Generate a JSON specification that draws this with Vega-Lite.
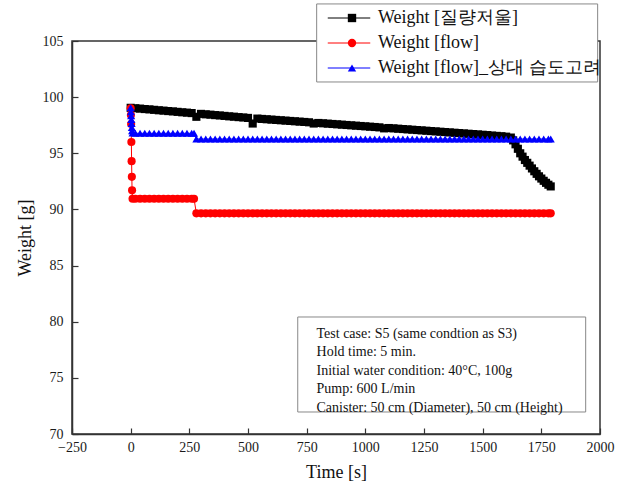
{
  "$schema": "https://vega.github.io/schema/vega-lite/v6.json",
  "width": 528,
  "height": 393,
  "autosize": {"type": "none"},
  "padding": {"left": 72, "top": 41, "right": 24, "bottom": 57},
  "background": "white",
  "config": {
    "view": {"stroke": "#333", "strokeWidth": 1.5},
    "font": "Liberation Serif",
    "axis": {
      "labelFont": "Liberation Serif",
      "titleFont": "Liberation Serif",
      "labelFontSize": 14,
      "titleFontSize": 18,
      "titleFontWeight": "normal",
      "labelColor": "#1a1a1a",
      "titleColor": "#111",
      "domainColor": "#333",
      "domainWidth": 1.5,
      "tickColor": "#333",
      "tickWidth": 1.2,
      "labelFlush": false,
      "labelOverlap": false
    },
    "legend": {
      "orient": "none",
      "legendX": 244,
      "legendY": -37,
      "padding": 5,
      "labelFont": "Liberation Serif",
      "labelFontSize": 18,
      "labelColor": "#111",
      "labelLimit": 400,
      "rowPadding": 7
    }
  },
  "datasets": {
    "one": [{}]
  },
  "data": {
    "values": [
      {"series": "Weight [질량저울]", "t": 0, "w": 99.05},
      {"series": "Weight [질량저울]", "t": 20, "w": 99.01},
      {"series": "Weight [질량저울]", "t": 40, "w": 98.98},
      {"series": "Weight [질량저울]", "t": 60, "w": 98.94},
      {"series": "Weight [질량저울]", "t": 80, "w": 98.91},
      {"series": "Weight [질량저울]", "t": 100, "w": 98.87},
      {"series": "Weight [질량저울]", "t": 120, "w": 98.83},
      {"series": "Weight [질량저울]", "t": 140, "w": 98.80},
      {"series": "Weight [질량저울]", "t": 160, "w": 98.76},
      {"series": "Weight [질량저울]", "t": 180, "w": 98.73},
      {"series": "Weight [질량저울]", "t": 200, "w": 98.69},
      {"series": "Weight [질량저울]", "t": 220, "w": 98.65},
      {"series": "Weight [질량저울]", "t": 240, "w": 98.62},
      {"series": "Weight [질량저울]", "t": 260, "w": 98.58},
      {"series": "Weight [질량저울]", "t": 280, "w": 98.25},
      {"series": "Weight [질량저울]", "t": 300, "w": 98.51},
      {"series": "Weight [질량저울]", "t": 320, "w": 98.47},
      {"series": "Weight [질량저울]", "t": 340, "w": 98.44},
      {"series": "Weight [질량저울]", "t": 360, "w": 98.40},
      {"series": "Weight [질량저울]", "t": 380, "w": 98.37},
      {"series": "Weight [질량저울]", "t": 400, "w": 98.33},
      {"series": "Weight [질량저울]", "t": 420, "w": 98.29},
      {"series": "Weight [질량저울]", "t": 440, "w": 98.26},
      {"series": "Weight [질량저울]", "t": 460, "w": 98.22},
      {"series": "Weight [질량저울]", "t": 480, "w": 98.19},
      {"series": "Weight [질량저울]", "t": 500, "w": 98.15},
      {"series": "Weight [질량저울]", "t": 520, "w": 97.65},
      {"series": "Weight [질량저울]", "t": 540, "w": 98.09},
      {"series": "Weight [질량저울]", "t": 560, "w": 98.06},
      {"series": "Weight [질량저울]", "t": 580, "w": 98.03},
      {"series": "Weight [질량저울]", "t": 600, "w": 98.00},
      {"series": "Weight [질량저울]", "t": 620, "w": 97.97},
      {"series": "Weight [질량저울]", "t": 640, "w": 97.94},
      {"series": "Weight [질량저울]", "t": 660, "w": 97.91},
      {"series": "Weight [질량저울]", "t": 680, "w": 97.88},
      {"series": "Weight [질량저울]", "t": 700, "w": 97.85},
      {"series": "Weight [질량저울]", "t": 720, "w": 97.82},
      {"series": "Weight [질량저울]", "t": 740, "w": 97.79},
      {"series": "Weight [질량저울]", "t": 760, "w": 97.76},
      {"series": "Weight [질량저울]", "t": 780, "w": 97.65},
      {"series": "Weight [질량저울]", "t": 800, "w": 97.70},
      {"series": "Weight [질량저울]", "t": 820, "w": 97.67},
      {"series": "Weight [질량저울]", "t": 840, "w": 97.64},
      {"series": "Weight [질량저울]", "t": 860, "w": 97.61},
      {"series": "Weight [질량저울]", "t": 880, "w": 97.58},
      {"series": "Weight [질량저울]", "t": 900, "w": 97.55},
      {"series": "Weight [질량저울]", "t": 920, "w": 97.52},
      {"series": "Weight [질량저울]", "t": 940, "w": 97.49},
      {"series": "Weight [질량저울]", "t": 960, "w": 97.46},
      {"series": "Weight [질량저울]", "t": 980, "w": 97.43},
      {"series": "Weight [질량저울]", "t": 1000, "w": 97.40},
      {"series": "Weight [질량저울]", "t": 1020, "w": 97.37},
      {"series": "Weight [질량저울]", "t": 1040, "w": 97.34},
      {"series": "Weight [질량저울]", "t": 1060, "w": 97.31},
      {"series": "Weight [질량저울]", "t": 1080, "w": 97.22},
      {"series": "Weight [질량저울]", "t": 1100, "w": 97.25},
      {"series": "Weight [질량저울]", "t": 1120, "w": 97.22},
      {"series": "Weight [질량저울]", "t": 1140, "w": 97.19},
      {"series": "Weight [질량저울]", "t": 1160, "w": 97.16},
      {"series": "Weight [질량저울]", "t": 1180, "w": 97.13},
      {"series": "Weight [질량저울]", "t": 1200, "w": 97.10},
      {"series": "Weight [질량저울]", "t": 1220, "w": 97.07},
      {"series": "Weight [질량저울]", "t": 1240, "w": 97.04},
      {"series": "Weight [질량저울]", "t": 1260, "w": 97.01},
      {"series": "Weight [질량저울]", "t": 1280, "w": 96.98},
      {"series": "Weight [질량저울]", "t": 1300, "w": 96.95},
      {"series": "Weight [질량저울]", "t": 1320, "w": 96.92},
      {"series": "Weight [질량저울]", "t": 1340, "w": 96.89},
      {"series": "Weight [질량저울]", "t": 1360, "w": 96.86},
      {"series": "Weight [질량저울]", "t": 1380, "w": 96.83},
      {"series": "Weight [질량저울]", "t": 1400, "w": 96.80},
      {"series": "Weight [질량저울]", "t": 1420, "w": 96.77},
      {"series": "Weight [질량저울]", "t": 1440, "w": 96.74},
      {"series": "Weight [질량저울]", "t": 1460, "w": 96.71},
      {"series": "Weight [질량저울]", "t": 1480, "w": 96.68},
      {"series": "Weight [질량저울]", "t": 1500, "w": 96.65},
      {"series": "Weight [질량저울]", "t": 1520, "w": 96.62},
      {"series": "Weight [질량저울]", "t": 1540, "w": 96.58},
      {"series": "Weight [질량저울]", "t": 1560, "w": 96.55},
      {"series": "Weight [질량저울]", "t": 1580, "w": 96.52},
      {"series": "Weight [질량저울]", "t": 1600, "w": 96.48},
      {"series": "Weight [질량저울]", "t": 1620, "w": 96.40},
      {"series": "Weight [질량저울]", "t": 1630, "w": 96.15},
      {"series": "Weight [질량저울]", "t": 1640, "w": 95.80},
      {"series": "Weight [질량저울]", "t": 1650, "w": 95.40},
      {"series": "Weight [질량저울]", "t": 1660, "w": 95.00},
      {"series": "Weight [질량저울]", "t": 1670, "w": 94.70},
      {"series": "Weight [질량저울]", "t": 1680, "w": 94.40},
      {"series": "Weight [질량저울]", "t": 1690, "w": 94.15},
      {"series": "Weight [질량저울]", "t": 1700, "w": 93.90},
      {"series": "Weight [질량저울]", "t": 1710, "w": 93.65},
      {"series": "Weight [질량저울]", "t": 1720, "w": 93.40},
      {"series": "Weight [질량저울]", "t": 1730, "w": 93.17},
      {"series": "Weight [질량저울]", "t": 1740, "w": 92.95},
      {"series": "Weight [질량저울]", "t": 1750, "w": 92.75},
      {"series": "Weight [질량저울]", "t": 1760, "w": 92.55},
      {"series": "Weight [질량저울]", "t": 1770, "w": 92.37},
      {"series": "Weight [질량저울]", "t": 1780, "w": 92.20},
      {"series": "Weight [질량저울]", "t": 1790, "w": 92.05},

      {"series": "Weight [flow]", "t": 0, "w": 99.0},
      {"series": "Weight [flow]", "t": 1, "w": 98.4},
      {"series": "Weight [flow]", "t": 2, "w": 97.6},
      {"series": "Weight [flow]", "t": 3, "w": 96.0},
      {"series": "Weight [flow]", "t": 4, "w": 94.3},
      {"series": "Weight [flow]", "t": 5, "w": 92.9},
      {"series": "Weight [flow]", "t": 6, "w": 91.7},
      {"series": "Weight [flow]", "t": 8, "w": 90.95},
      {"series": "Weight [flow]", "t": 20, "w": 90.95},
      {"series": "Weight [flow]", "t": 40, "w": 90.95},
      {"series": "Weight [flow]", "t": 60, "w": 90.95},
      {"series": "Weight [flow]", "t": 80, "w": 90.95},
      {"series": "Weight [flow]", "t": 100, "w": 90.95},
      {"series": "Weight [flow]", "t": 120, "w": 90.95},
      {"series": "Weight [flow]", "t": 140, "w": 90.95},
      {"series": "Weight [flow]", "t": 160, "w": 90.95},
      {"series": "Weight [flow]", "t": 180, "w": 90.95},
      {"series": "Weight [flow]", "t": 200, "w": 90.95},
      {"series": "Weight [flow]", "t": 220, "w": 90.95},
      {"series": "Weight [flow]", "t": 240, "w": 90.95},
      {"series": "Weight [flow]", "t": 260, "w": 90.95},
      {"series": "Weight [flow]", "t": 270, "w": 90.95},
      {"series": "Weight [flow]", "t": 280, "w": 89.65},
      {"series": "Weight [flow]", "t": 300, "w": 89.65},
      {"series": "Weight [flow]", "t": 320, "w": 89.65},
      {"series": "Weight [flow]", "t": 340, "w": 89.65},
      {"series": "Weight [flow]", "t": 360, "w": 89.65},
      {"series": "Weight [flow]", "t": 380, "w": 89.65},
      {"series": "Weight [flow]", "t": 400, "w": 89.65},
      {"series": "Weight [flow]", "t": 420, "w": 89.65},
      {"series": "Weight [flow]", "t": 440, "w": 89.65},
      {"series": "Weight [flow]", "t": 460, "w": 89.65},
      {"series": "Weight [flow]", "t": 480, "w": 89.65},
      {"series": "Weight [flow]", "t": 500, "w": 89.65},
      {"series": "Weight [flow]", "t": 520, "w": 89.65},
      {"series": "Weight [flow]", "t": 540, "w": 89.65},
      {"series": "Weight [flow]", "t": 560, "w": 89.65},
      {"series": "Weight [flow]", "t": 580, "w": 89.65},
      {"series": "Weight [flow]", "t": 600, "w": 89.65},
      {"series": "Weight [flow]", "t": 620, "w": 89.65},
      {"series": "Weight [flow]", "t": 640, "w": 89.65},
      {"series": "Weight [flow]", "t": 660, "w": 89.65},
      {"series": "Weight [flow]", "t": 680, "w": 89.65},
      {"series": "Weight [flow]", "t": 700, "w": 89.65},
      {"series": "Weight [flow]", "t": 720, "w": 89.65},
      {"series": "Weight [flow]", "t": 740, "w": 89.65},
      {"series": "Weight [flow]", "t": 760, "w": 89.65},
      {"series": "Weight [flow]", "t": 780, "w": 89.65},
      {"series": "Weight [flow]", "t": 800, "w": 89.65},
      {"series": "Weight [flow]", "t": 820, "w": 89.65},
      {"series": "Weight [flow]", "t": 840, "w": 89.65},
      {"series": "Weight [flow]", "t": 860, "w": 89.65},
      {"series": "Weight [flow]", "t": 880, "w": 89.65},
      {"series": "Weight [flow]", "t": 900, "w": 89.65},
      {"series": "Weight [flow]", "t": 920, "w": 89.65},
      {"series": "Weight [flow]", "t": 940, "w": 89.65},
      {"series": "Weight [flow]", "t": 960, "w": 89.65},
      {"series": "Weight [flow]", "t": 980, "w": 89.65},
      {"series": "Weight [flow]", "t": 1000, "w": 89.65},
      {"series": "Weight [flow]", "t": 1020, "w": 89.65},
      {"series": "Weight [flow]", "t": 1040, "w": 89.65},
      {"series": "Weight [flow]", "t": 1060, "w": 89.65},
      {"series": "Weight [flow]", "t": 1080, "w": 89.65},
      {"series": "Weight [flow]", "t": 1100, "w": 89.65},
      {"series": "Weight [flow]", "t": 1120, "w": 89.65},
      {"series": "Weight [flow]", "t": 1140, "w": 89.65},
      {"series": "Weight [flow]", "t": 1160, "w": 89.65},
      {"series": "Weight [flow]", "t": 1180, "w": 89.65},
      {"series": "Weight [flow]", "t": 1200, "w": 89.65},
      {"series": "Weight [flow]", "t": 1220, "w": 89.65},
      {"series": "Weight [flow]", "t": 1240, "w": 89.65},
      {"series": "Weight [flow]", "t": 1260, "w": 89.65},
      {"series": "Weight [flow]", "t": 1280, "w": 89.65},
      {"series": "Weight [flow]", "t": 1300, "w": 89.65},
      {"series": "Weight [flow]", "t": 1320, "w": 89.65},
      {"series": "Weight [flow]", "t": 1340, "w": 89.65},
      {"series": "Weight [flow]", "t": 1360, "w": 89.65},
      {"series": "Weight [flow]", "t": 1380, "w": 89.65},
      {"series": "Weight [flow]", "t": 1400, "w": 89.65},
      {"series": "Weight [flow]", "t": 1420, "w": 89.65},
      {"series": "Weight [flow]", "t": 1440, "w": 89.65},
      {"series": "Weight [flow]", "t": 1460, "w": 89.65},
      {"series": "Weight [flow]", "t": 1480, "w": 89.65},
      {"series": "Weight [flow]", "t": 1500, "w": 89.65},
      {"series": "Weight [flow]", "t": 1520, "w": 89.65},
      {"series": "Weight [flow]", "t": 1540, "w": 89.65},
      {"series": "Weight [flow]", "t": 1560, "w": 89.65},
      {"series": "Weight [flow]", "t": 1580, "w": 89.65},
      {"series": "Weight [flow]", "t": 1600, "w": 89.65},
      {"series": "Weight [flow]", "t": 1620, "w": 89.65},
      {"series": "Weight [flow]", "t": 1640, "w": 89.65},
      {"series": "Weight [flow]", "t": 1660, "w": 89.65},
      {"series": "Weight [flow]", "t": 1680, "w": 89.65},
      {"series": "Weight [flow]", "t": 1700, "w": 89.65},
      {"series": "Weight [flow]", "t": 1720, "w": 89.65},
      {"series": "Weight [flow]", "t": 1740, "w": 89.65},
      {"series": "Weight [flow]", "t": 1760, "w": 89.65},
      {"series": "Weight [flow]", "t": 1780, "w": 89.65},
      {"series": "Weight [flow]", "t": 1790, "w": 89.65},

      {"series": "Weight [flow]_상대 습도고려", "t": 0, "w": 99.05},
      {"series": "Weight [flow]_상대 습도고려", "t": 1, "w": 98.7},
      {"series": "Weight [flow]_상대 습도고려", "t": 2, "w": 98.35},
      {"series": "Weight [flow]_상대 습도고려", "t": 3, "w": 98.0},
      {"series": "Weight [flow]_상대 습도고려", "t": 4, "w": 97.65},
      {"series": "Weight [flow]_상대 습도고려", "t": 5, "w": 97.3},
      {"series": "Weight [flow]_상대 습도고려", "t": 6, "w": 97.0},
      {"series": "Weight [flow]_상대 습도고려", "t": 8, "w": 96.8},
      {"series": "Weight [flow]_상대 습도고려", "t": 20, "w": 96.78},
      {"series": "Weight [flow]_상대 습도고려", "t": 40, "w": 96.78},
      {"series": "Weight [flow]_상대 습도고려", "t": 60, "w": 96.78},
      {"series": "Weight [flow]_상대 습도고려", "t": 80, "w": 96.78},
      {"series": "Weight [flow]_상대 습도고려", "t": 100, "w": 96.78},
      {"series": "Weight [flow]_상대 습도고려", "t": 120, "w": 96.78},
      {"series": "Weight [flow]_상대 습도고려", "t": 140, "w": 96.78},
      {"series": "Weight [flow]_상대 습도고려", "t": 160, "w": 96.78},
      {"series": "Weight [flow]_상대 습도고려", "t": 180, "w": 96.78},
      {"series": "Weight [flow]_상대 습도고려", "t": 200, "w": 96.78},
      {"series": "Weight [flow]_상대 습도고려", "t": 220, "w": 96.78},
      {"series": "Weight [flow]_상대 습도고려", "t": 240, "w": 96.78},
      {"series": "Weight [flow]_상대 습도고려", "t": 260, "w": 96.78},
      {"series": "Weight [flow]_상대 습도고려", "t": 270, "w": 96.78},
      {"series": "Weight [flow]_상대 습도고려", "t": 280, "w": 96.27},
      {"series": "Weight [flow]_상대 습도고려", "t": 300, "w": 96.27},
      {"series": "Weight [flow]_상대 습도고려", "t": 320, "w": 96.27},
      {"series": "Weight [flow]_상대 습도고려", "t": 340, "w": 96.27},
      {"series": "Weight [flow]_상대 습도고려", "t": 360, "w": 96.27},
      {"series": "Weight [flow]_상대 습도고려", "t": 380, "w": 96.27},
      {"series": "Weight [flow]_상대 습도고려", "t": 400, "w": 96.27},
      {"series": "Weight [flow]_상대 습도고려", "t": 420, "w": 96.27},
      {"series": "Weight [flow]_상대 습도고려", "t": 440, "w": 96.27},
      {"series": "Weight [flow]_상대 습도고려", "t": 460, "w": 96.27},
      {"series": "Weight [flow]_상대 습도고려", "t": 480, "w": 96.27},
      {"series": "Weight [flow]_상대 습도고려", "t": 500, "w": 96.27},
      {"series": "Weight [flow]_상대 습도고려", "t": 520, "w": 96.27},
      {"series": "Weight [flow]_상대 습도고려", "t": 540, "w": 96.27},
      {"series": "Weight [flow]_상대 습도고려", "t": 560, "w": 96.27},
      {"series": "Weight [flow]_상대 습도고려", "t": 580, "w": 96.27},
      {"series": "Weight [flow]_상대 습도고려", "t": 600, "w": 96.27},
      {"series": "Weight [flow]_상대 습도고려", "t": 620, "w": 96.27},
      {"series": "Weight [flow]_상대 습도고려", "t": 640, "w": 96.27},
      {"series": "Weight [flow]_상대 습도고려", "t": 660, "w": 96.27},
      {"series": "Weight [flow]_상대 습도고려", "t": 680, "w": 96.27},
      {"series": "Weight [flow]_상대 습도고려", "t": 700, "w": 96.27},
      {"series": "Weight [flow]_상대 습도고려", "t": 720, "w": 96.27},
      {"series": "Weight [flow]_상대 습도고려", "t": 740, "w": 96.27},
      {"series": "Weight [flow]_상대 습도고려", "t": 760, "w": 96.27},
      {"series": "Weight [flow]_상대 습도고려", "t": 780, "w": 96.27},
      {"series": "Weight [flow]_상대 습도고려", "t": 800, "w": 96.27},
      {"series": "Weight [flow]_상대 습도고려", "t": 820, "w": 96.27},
      {"series": "Weight [flow]_상대 습도고려", "t": 840, "w": 96.27},
      {"series": "Weight [flow]_상대 습도고려", "t": 860, "w": 96.27},
      {"series": "Weight [flow]_상대 습도고려", "t": 880, "w": 96.27},
      {"series": "Weight [flow]_상대 습도고려", "t": 900, "w": 96.27},
      {"series": "Weight [flow]_상대 습도고려", "t": 920, "w": 96.27},
      {"series": "Weight [flow]_상대 습도고려", "t": 940, "w": 96.27},
      {"series": "Weight [flow]_상대 습도고려", "t": 960, "w": 96.27},
      {"series": "Weight [flow]_상대 습도고려", "t": 980, "w": 96.27},
      {"series": "Weight [flow]_상대 습도고려", "t": 1000, "w": 96.27},
      {"series": "Weight [flow]_상대 습도고려", "t": 1020, "w": 96.27},
      {"series": "Weight [flow]_상대 습도고려", "t": 1040, "w": 96.27},
      {"series": "Weight [flow]_상대 습도고려", "t": 1060, "w": 96.27},
      {"series": "Weight [flow]_상대 습도고려", "t": 1080, "w": 96.27},
      {"series": "Weight [flow]_상대 습도고려", "t": 1100, "w": 96.27},
      {"series": "Weight [flow]_상대 습도고려", "t": 1120, "w": 96.27},
      {"series": "Weight [flow]_상대 습도고려", "t": 1140, "w": 96.27},
      {"series": "Weight [flow]_상대 습도고려", "t": 1160, "w": 96.27},
      {"series": "Weight [flow]_상대 습도고려", "t": 1180, "w": 96.27},
      {"series": "Weight [flow]_상대 습도고려", "t": 1200, "w": 96.27},
      {"series": "Weight [flow]_상대 습도고려", "t": 1220, "w": 96.27},
      {"series": "Weight [flow]_상대 습도고려", "t": 1240, "w": 96.27},
      {"series": "Weight [flow]_상대 습도고려", "t": 1260, "w": 96.27},
      {"series": "Weight [flow]_상대 습도고려", "t": 1280, "w": 96.27},
      {"series": "Weight [flow]_상대 습도고려", "t": 1300, "w": 96.27},
      {"series": "Weight [flow]_상대 습도고려", "t": 1320, "w": 96.27},
      {"series": "Weight [flow]_상대 습도고려", "t": 1340, "w": 96.27},
      {"series": "Weight [flow]_상대 습도고려", "t": 1360, "w": 96.27},
      {"series": "Weight [flow]_상대 습도고려", "t": 1380, "w": 96.27},
      {"series": "Weight [flow]_상대 습도고려", "t": 1400, "w": 96.27},
      {"series": "Weight [flow]_상대 습도고려", "t": 1420, "w": 96.27},
      {"series": "Weight [flow]_상대 습도고려", "t": 1440, "w": 96.27},
      {"series": "Weight [flow]_상대 습도고려", "t": 1460, "w": 96.27},
      {"series": "Weight [flow]_상대 습도고려", "t": 1480, "w": 96.27},
      {"series": "Weight [flow]_상대 습도고려", "t": 1500, "w": 96.27},
      {"series": "Weight [flow]_상대 습도고려", "t": 1520, "w": 96.27},
      {"series": "Weight [flow]_상대 습도고려", "t": 1540, "w": 96.27},
      {"series": "Weight [flow]_상대 습도고려", "t": 1560, "w": 96.27},
      {"series": "Weight [flow]_상대 습도고려", "t": 1580, "w": 96.27},
      {"series": "Weight [flow]_상대 습도고려", "t": 1600, "w": 96.27},
      {"series": "Weight [flow]_상대 습도고려", "t": 1620, "w": 96.27},
      {"series": "Weight [flow]_상대 습도고려", "t": 1640, "w": 96.27},
      {"series": "Weight [flow]_상대 습도고려", "t": 1660, "w": 96.27},
      {"series": "Weight [flow]_상대 습도고려", "t": 1680, "w": 96.27},
      {"series": "Weight [flow]_상대 습도고려", "t": 1700, "w": 96.27},
      {"series": "Weight [flow]_상대 습도고려", "t": 1720, "w": 96.27},
      {"series": "Weight [flow]_상대 습도고려", "t": 1740, "w": 96.27},
      {"series": "Weight [flow]_상대 습도고려", "t": 1760, "w": 96.27},
      {"series": "Weight [flow]_상대 습도고려", "t": 1780, "w": 96.27},
      {"series": "Weight [flow]_상대 습도고려", "t": 1790, "w": 96.27}
    ]
  },
  "layer": [
    {
      "encoding": {
        "x": {
          "field": "t", "type": "quantitative",
          "scale": {"domain": [-250, 2000], "nice": false, "zero": false},
          "axis": {
            "orient": "bottom", "title": "Time [s]", "format": "d",
            "values": [-250, -125, 0, 125, 250, 375, 500, 625, 750, 875, 1000, 1125, 1250, 1375, 1500, 1625, 1750, 1875, 2000],
            "labelExpr": "datum.value % 250 === 0 ? datum.label : ''",
            "tickSize": {"condition": {"test": "datum.value % 250 !== 0", "value": -3}, "value": -6},
            "grid": true, "gridDash": [1, 2], "gridColor": "#b8b8b8", "gridWidth": 1,
            "gridOpacity": {"condition": {"test": "datum.value % 250 !== 0", "value": 1}, "value": 0},
            "labelPadding": 12, "titlePadding": 9
          }
        },
        "y": {
          "field": "w", "type": "quantitative",
          "scale": {"domain": [70, 105], "nice": false, "zero": false},
          "axis": {
            "orient": "left", "title": "Weight [g]",
            "values": [70, 72.5, 75, 77.5, 80, 82.5, 85, 87.5, 90, 92.5, 95, 97.5, 100, 102.5, 105],
            "labelExpr": "datum.value % 5 === 0 ? datum.label : ''",
            "tickSize": {"condition": {"test": "datum.value % 5 !== 0", "value": -3}, "value": -6},
            "grid": true, "gridDash": [1, 2], "gridColor": "#b8b8b8", "gridWidth": 1,
            "gridOpacity": {"condition": {"test": "datum.value % 5 !== 0", "value": 1}, "value": 0},
            "labelPadding": 15, "titlePadding": 8
          }
        }
      },
      "layer": [
        {
          "mark": {"type": "line", "strokeWidth": 1},
          "encoding": {
            "stroke": {
              "field": "series", "type": "nominal",
              "sort": ["Weight [질량저울]", "Weight [flow]", "Weight [flow]_상대 습도고려"],
              "scale": {"range": ["#000000", "#ff0000", "#0000ff"]},
              "legend": {
                "title": null,
                "symbolType": "M-2.5,0H2.5",
                "symbolSize": 289,
                "symbolStrokeWidth": 1,
                "symbolOffset": 19,
                "labelOffset": 10,
                "labelExpr": "''",
                "labelOpacity": 0
              }
            }
          }
        },
        {
          "mark": {"type": "point", "filled": true, "opacity": 1, "size": 66},
          "encoding": {
            "color": {
              "field": "series", "type": "nominal",
              "scale": {"domain": ["Weight [질량저울]", "Weight [flow]", "Weight [flow]_상대 습도고려"], "range": ["#000000", "#ff0000", "#0000ff"]},
              "legend": {"title": null, "symbolSize": 70, "symbolOffset": 22, "labelOffset": 17}
            },
            "shape": {
              "field": "series", "type": "nominal",
              "scale": {"domain": ["Weight [질량저울]", "Weight [flow]", "Weight [flow]_상대 습도고려"], "range": ["square", "circle", "triangle-up"]},
              "legend": {"title": null, "symbolSize": 70, "symbolOffset": 22, "labelOffset": 17}
            }
          }
        }
      ]
    },
    {
      "data": {"name": "one"},
      "mark": {"type": "rect", "fill": "white", "stroke": "#888", "strokeWidth": 1, "clip": false},
      "encoding": {
        "x": {"datum": 792.6, "type": "quantitative"},
        "x2": {"datum": 1990},
        "y": {"datum": 108.3, "type": "quantitative"},
        "y2": {"datum": 101.35}
      }
    },
    {
      "data": {"name": "one"},
      "mark": {"type": "rect", "fill": "white", "stroke": "#888", "strokeWidth": 1},
      "encoding": {
        "x": {"datum": 712, "type": "quantitative"},
        "x2": {"datum": 1939},
        "y": {"datum": 80.42, "type": "quantitative"},
        "y2": {"datum": 71.96}
      }
    },
    {
      "data": {"name": "one"},
      "mark": {"type": "text", "align": "left", "baseline": "top", "lineHeight": 18.5, "fontSize": 14, "font": "Liberation Serif", "color": "#111"},
      "encoding": {
        "x": {"datum": 792, "type": "quantitative"},
        "y": {"datum": 79.53, "type": "quantitative"},
        "text": {"value": ["Test case: S5 (same condtion as S3)", "Hold time: 5 min.", "Initial water condition: 40°C, 100g", "Pump: 600 L/min", "Canister: 50 cm (Diameter), 50 cm (Height)"]}
      }
    }
  ]
}
